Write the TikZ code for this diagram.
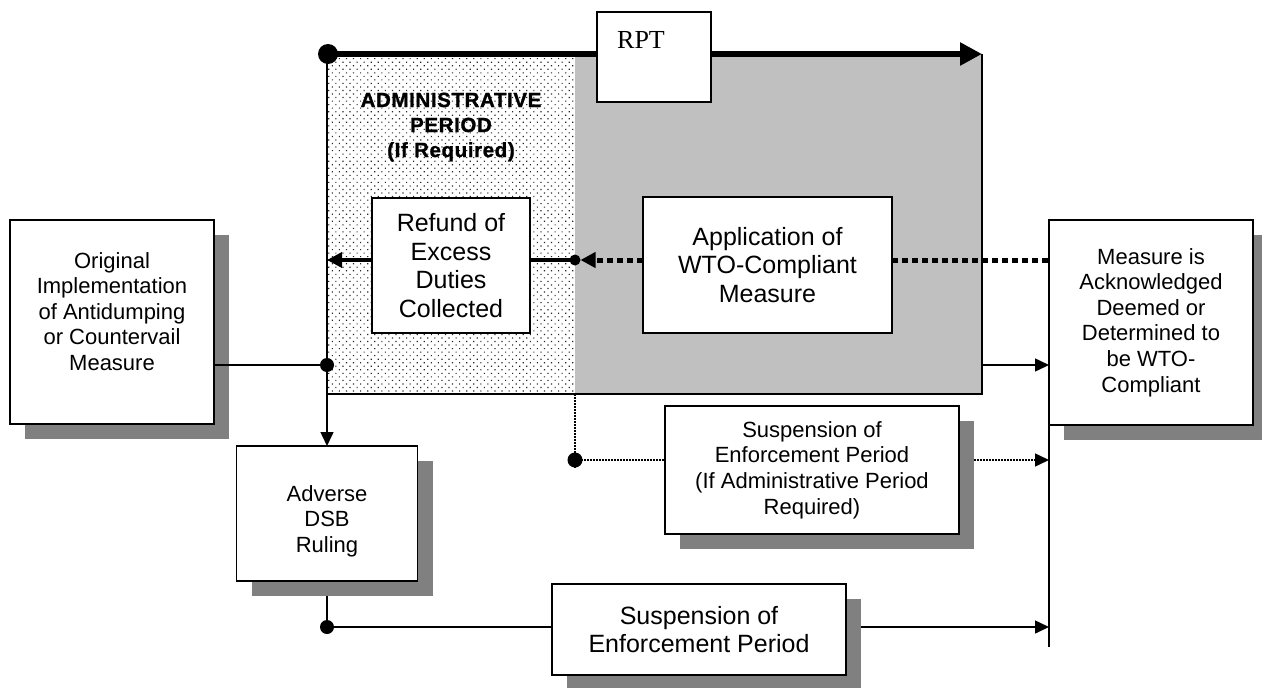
\documentclass[tikz,border=0pt]{standalone}
\usepackage{fontspec}
\setmainfont{Liberation Sans}
\newfontfamily\rptfont{Liberation Serif}
\newfontfamily\adminfont{Liberation Sans}[LetterSpace=3,FakeBold=1.2]
\usetikzlibrary{arrows.meta,shadows,patterns.meta,calc}
\definecolor{regiongray}{HTML}{C0C0C0}
\definecolor{shadowgray}{HTML}{808080}
\pgfdeclarelayer{back}
\pgfdeclarelayer{mid}
\pgfsetlayers{back,mid,main}
\begin{document}
\begin{tikzpicture}[x=1pt,y=-1pt,
  box/.style={draw, line width=1.8pt, fill=white, inner sep=0pt, outer sep=0pt, align=center},
  shbox/.style={box, drop shadow={shadow xshift=15pt, shadow yshift=-15pt, fill=shadowgray, opacity=1}},
  txtsmall/.style={font=\fontsize{22}{25.6}\selectfont, align=center, inner sep=0pt},
  txtlarge/.style={font=\fontsize{25}{28.7}\selectfont, align=center, inner sep=0pt},
  conn/.style={line width=1.5pt},
  arrowend/.style={-{Triangle[length=14pt,width=13pt]}},
  thindot/.style={conn, dash pattern=on 1.5pt off 1.5pt},
  thickdots/.style={line width=5pt, dash pattern=on 6pt off 4pt},
  jdot/.style={circle, fill=black, inner sep=0pt, outer sep=0pt, minimum size=#1},
]
\useasboundingbox (0,0) rectangle (1262,688);

% regions
\begin{pgfonlayer}{back}
\fill[white] (0,0) rectangle (1262,688);
\node[minimum width=248pt, minimum height=340pt, anchor=north west, inner sep=0pt, outer sep=0pt,
      pattern={Dots[distance=5pt,angle=45,radius=0.8pt]}, pattern color=black!85] (admin) at (327,54) {};
\node[minimum width=407pt, minimum height=340pt, anchor=north west, inner sep=0pt, outer sep=0pt,
      fill=regiongray] (gray) at (575,54) {};
\draw[conn] (admin.north west) -- (admin.south west) -- (gray.south east) -- (gray.north east);
\node[font=\adminfont\bfseries\fontsize{20.5}{25}\selectfont, align=center, inner sep=0pt] (admintext) at (451,127)
  {ADMINISTRATIVE\\PERIOD\\(If Required)};
\end{pgfonlayer}

% boxes
\node[shbox, minimum width=204pt, minimum height=204pt] (orig) at (112,322) {};
\node[txtsmall] (origtext) at (112,311.5) {Original\\Implementation\\of Antidumping\\or Countervail\\Measure};
\node[box, txtlarge, minimum width=158pt, minimum height=135pt] (refund) at (451,265.5) {Refund of\\Excess\\Duties\\Collected};
\node[box, txtlarge, minimum width=249pt, minimum height=136pt] (app) at (767.5,265) {Application of\\WTO-Compliant\\Measure};
\node[shbox, txtsmall, minimum width=204pt, minimum height=205pt] (measure) at (1151,322.5)
  {Measure is\\Acknowledged\\Deemed or\\Determined to\\be WTO-\\Compliant};
\node[shbox, minimum width=181pt, minimum height=135pt] (adverse) at (327,513.5) {};
\node[txtsmall] (advtext) at (327,521) {Adverse\\DSB\\Ruling};
\node[shbox, txtsmall, minimum width=294pt, minimum height=128pt] (susp1) at (812,470)
  {Suspension of\\Enforcement Period\\(If Administrative Period\\Required)};
\node[shbox, txtlarge, minimum width=294pt, minimum height=91pt] (susp2) at (699,629.5)
  {Suspension of\\Enforcement Period};
\node[box, minimum width=114pt, minimum height=90pt] (rpt) at (654,57) {};
\node[font=\rptfont\fontsize{26}{30}\selectfont, inner sep=0pt] (rpttext) at (641,40) {RPT};

% connectors
\begin{pgfonlayer}{mid}
\node[jdot=20pt] (rptstart) at (328,54) {};
\coordinate (rptend) at (982,54);
\draw[line width=6pt, -{Triangle[length=22pt,width=22pt]}] (rptstart.center) -- (rptend);
\node[jdot=14pt] (j1) at (327,365) {};
\node[jdot=11pt] (j2) at (575,260) {};
\node[jdot=15pt] (j3) at (575,460) {};
\coordinate (j3end) at (575,469);
\node[jdot=14pt] (j4) at (327,627) {};
\coordinate (rbottom) at (1049,647);

\draw[conn, arrowend] (admin.north west) -- (adverse.north);
\draw[line width=3.5pt, -{Triangle[length=15pt,width=15pt]}] (j2 -| refund.west) -- (j2 -| admin.west);
\draw[line width=3.5pt] (j2 -| refund.east) -- (j2.center);
\draw[thickdots, -{Triangle[length=15pt,width=15pt]}] (j2 -| app.west) -- (j2);
\draw[thickdots] (j2 -| app.east) -- (j2 -| measure.west);
\draw[conn, arrowend] (j1 -| gray.east) -- (j1 -| measure.west);
\draw[thindot] (gray.south west) -- (j3end);
\draw[thindot] (j3.center) -- (j3 -| susp1.west);
\draw[thindot, arrowend] (j3 -| susp1.east) -- (j3 -| measure.west);
\draw[conn] (measure.south west) -- (rbottom);
\draw[conn] (adverse.south) -- (j4.center);
\draw[conn] (j4.center) -- (j4 -| susp2.west);
\draw[conn, arrowend] (j4 -| susp2.east) -- (j4 -| measure.west);
\end{pgfonlayer}

\draw[conn] (j1 -| orig.east) -- (j1.center);
\end{tikzpicture}
\end{document}
